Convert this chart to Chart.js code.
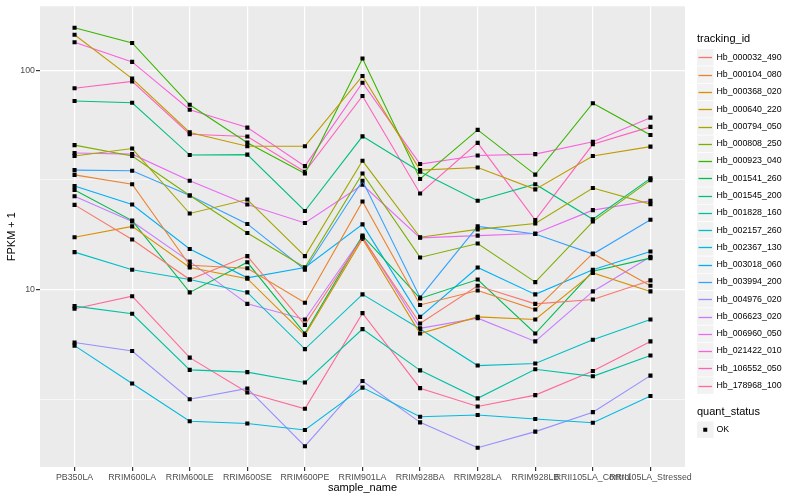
<!DOCTYPE html>
<html>
<head>
<meta charset="utf-8">
<style>
  html, body { margin: 0; padding: 0; background: #fff; }
</style>
</head>
<body>
<canvas id="myChart" width="800" height="500"></canvas>

<script src="https://cdn.jsdelivr.net/npm/chart.js"></script>

<script>
  // sample names along x
  let samples = ['PB350LA', 'RRIM600LA', 'RRIM600LE', 'RRIM600SE', 'RRIM600PE', 'RRIM901LA',
    'RRIM928BA', 'RRIM928LA', 'RRIM928LB', 'RRII105LA_Control', 'RRII105LA_Stressed'];

  let trackingIds = ['Hb_000032_490', 'Hb_000104_080', 'Hb_000368_020', 'Hb_000640_220',
    'Hb_000794_050', 'Hb_000808_250', 'Hb_000923_040', 'Hb_001541_260', 'Hb_001545_200',
    'Hb_001828_160', 'Hb_002157_260', 'Hb_002367_130', 'Hb_003018_060', 'Hb_003994_200',
    'Hb_004976_020', 'Hb_006623_020', 'Hb_006960_050', 'Hb_021422_010', 'Hb_106552_050',
    'Hb_178968_100'];

  // FPKM + 1
  let hb_000032_490 = [24.3, 16.9, 11.1, 14.2, 6.9, 17.2, 7.0, 10.4, 8.6, 9.0, 11.0];
  let hb_000104_080 = [33.3, 30.2, 12.9, 12.5, 8.7, 25.2, 8.5, 9.9, 8.1, 14.6, 10.4];
  let hb_000368_020 = [17.3, 19.4, 12.6, 11.2, 6.2, 17.0, 6.3, 7.5, 7.3, 11.9, 9.8];
  let hb_000640_220 = [145, 91.5, 52, 45, 45, 94, 35, 36, 28.6, 40.6, 44.8];
  let hb_000794_050 = [40.6, 43.9, 22.2, 25.7, 14.2, 38.6, 17.3, 18.8, 20.0, 29.0, 24.5];
  let hb_000808_250 = [45.5, 40.6, 26.8, 18.1, 12.6, 33.8, 14.0, 16.2, 10.8, 20.4, 31.5];
  let hb_000923_040 = [156, 133, 69.5, 46.7, 33.8, 113, 31.9, 53.4, 33.4, 70.6, 50.6];
  let hb_001541_260 = [28.4, 20.6, 9.7, 13.3, 6.3, 17.6, 9.1, 11.1, 6.3, 12.1, 13.9];
  let hb_001545_200 = [72.3, 71.0, 41.0, 41.2, 22.8, 49.9, 34.4, 25.4, 30.2, 20.9, 32.1];
  let hb_001828_160 = [8.4, 7.75, 4.3, 4.2, 3.77, 6.6, 4.28, 3.19, 4.33, 4.02, 5.0];
  let hb_002157_260 = [14.8, 12.3, 11.1, 9.7, 5.35, 9.5, 6.6, 4.5, 4.6, 5.9, 7.3];
  let hb_002367_130 = [5.55, 3.73, 2.51, 2.45, 2.29, 3.57, 2.63, 2.68, 2.57, 2.47, 3.27];
  let hb_003018_060 = [29.6, 24.4, 15.3, 11.3, 12.6, 19.8, 7.5, 12.6, 9.5, 12.3, 14.9];
  let hb_003994_200 = [35.0, 34.8, 26.8, 19.9, 12.3, 31.3, 9.2, 19.4, 17.9, 14.5, 20.8];
  let hb_004976_020 = [5.73, 5.24, 3.16, 3.54, 1.93, 3.83, 2.48, 1.90, 2.25, 2.76, 4.05];
  let hb_006623_020 = [26.6, 20.4, 13.4, 8.6, 7.3, 17.4, 6.65, 7.4, 5.8, 9.8, 14.1];
  let hb_006960_050 = [41.9, 41.4, 31.3, 24.4, 20.1, 30.0, 17.2, 17.6, 18.0, 23.0, 25.4];
  let hb_021422_010 = [134, 109, 66, 54.7, 36.5, 87.6, 37.3, 40.8, 41.4, 47.1, 60.7];
  let hb_106552_050 = [82.6, 88.8, 51.0, 49.8, 34.4, 76.2, 27.4, 46.6, 20.7, 45.9, 55.1];
  let hb_178968_100 = [8.17, 9.32, 4.89, 3.39, 2.86, 7.80, 3.55, 2.93, 3.30, 4.25, 5.80];

  let seriesValues = [hb_000032_490, hb_000104_080, hb_000368_020, hb_000640_220, hb_000794_050,
    hb_000808_250, hb_000923_040, hb_001541_260, hb_001545_200, hb_001828_160, hb_002157_260,
    hb_002367_130, hb_003018_060, hb_003994_200, hb_004976_020, hb_006623_020, hb_006960_050,
    hb_021422_010, hb_106552_050, hb_178968_100];

  let yMajorTicks = [10, 100];
  let yMinorTicks = [3.162, 31.62];
  let quantStatus = ['OK'];
</script>

<script>
  // ggplot-like hue palette (polar Luv)
  function hcl(h, c, l) {
    const hr = h * Math.PI / 180;
    const U = c * Math.cos(hr), V = c * Math.sin(hr);
    const Xn = 95.047, Yn = 100, Zn = 108.883;
    const un = 4 * Xn / (Xn + 15 * Yn + 3 * Zn), vn = 9 * Yn / (Xn + 15 * Yn + 3 * Zn);
    const Y = Yn * (l > 8 ? Math.pow((l + 16) / 116, 3) : l / 903.3);
    const u = U / (13 * l) + un, v = V / (13 * l) + vn;
    const X = 9 * Y * u / (4 * v);
    const Z = -X / 3 - 5 * Y + 3 * Y / v;
    const gam = t => t > 0.0031308 ? 1.055 * Math.pow(t, 1 / 2.4) - 0.055 : 12.92 * t;
    const rgb = [
      3.240479 * X - 1.537150 * Y - 0.498535 * Z,
      -0.969256 * X + 1.875992 * Y + 0.041556 * Z,
      0.055648 * X - 0.204043 * Y + 1.057311 * Z
    ].map(t => Math.round(255 * Math.min(1, Math.max(0, gam(t / 100)))));
    return '#' + rgb.map(x => x.toString(16).padStart(2, '0')).join('');
  }

  let datasets = [];
  for (let i = 0; i < trackingIds.length; i++) {
    let dataset = {};
    dataset.label = trackingIds[i];
    dataset.borderColor = hcl(15 + i * 360 / trackingIds.length, 100, 65);
    dataset.borderWidth = 1.1;
    dataset.pointStyle = 'rect';
    dataset.pointRadius = 2.9;
    dataset.pointBorderWidth = 0;
    dataset.pointBackgroundColor = '#000';
    dataset.fill = false;
    dataset.tension = 0;
    dataset.data = seriesValues[i].map((v, j) => ({ x: j, y: v }));
    datasets.push(dataset);
  }

  const panelBg = {
    id: 'panelBg',
    beforeDraw(chart) {
      const a = chart.chartArea, ctx = chart.ctx;
      ctx.save();
      ctx.fillStyle = '#EBEBEB';
      ctx.fillRect(a.left, a.top, a.right - a.left, a.bottom - a.top);
      ctx.restore();
    }
  };

  const ggLegend = {
    id: 'ggLegend',
    afterDraw(chart) {
      const ctx = chart.ctx;
      const x0 = 697, step = 17.27, key = 16.5;
      ctx.save();
      ctx.textBaseline = 'middle';
      ctx.textAlign = 'left';
      ctx.fillStyle = '#000';
      ctx.font = '11px "Liberation Sans", Arial, sans-serif';
      ctx.fillText('tracking_id', x0, 39);
      chart.data.datasets.forEach((ds, i) => {
        const top = 49.2 + i * step;
        const mid = Math.round(top + key / 2) + 0.5;
        ctx.fillStyle = '#F2F2F2';
        ctx.fillRect(x0, top, key, key);
        ctx.strokeStyle = ds.borderColor;
        ctx.lineWidth = 1.3;
        ctx.beginPath();
        ctx.moveTo(x0 + 1.5, mid);
        ctx.lineTo(x0 + key - 1.5, mid);
        ctx.stroke();
        ctx.fillStyle = '#000';
        ctx.font = '8.8px "Liberation Sans", Arial, sans-serif';
        ctx.fillText(ds.label, x0 + 19.5, top + key / 2);
      });
      ctx.font = '11px "Liberation Sans", Arial, sans-serif';
      ctx.fillText('quant_status', x0, 412);
      const top = 421.5;
      ctx.fillStyle = '#F2F2F2';
      ctx.fillRect(x0, top, key, key);
      ctx.fillStyle = '#000';
      ctx.fillRect(x0 + key / 2 - 2, top + key / 2 - 2, 4, 4);
      ctx.font = '8.8px "Liberation Sans", Arial, sans-serif';
      ctx.fillText(quantStatus[0], x0 + 19.5, top + key / 2);
      ctx.restore();
    }
  };

  const isMinor = v => yMinorTicks.some(m => Math.abs(m - v) < 1e-6);

  const ctx = document.getElementById('myChart');

  new Chart(ctx, {
    type: 'line',
    data: { datasets: datasets },
    plugins: [panelBg, ggLegend],
    options: {
      responsive: false,
      animation: false,
      events: [],
      layout: { padding: { left: 0, right: 115, top: 5, bottom: 0 } },
      plugins: { legend: { display: false }, tooltip: { enabled: false } },
      scales: {
        x: {
          type: 'linear',
          min: -0.6,
          max: samples.length - 0.4,
          afterBuildTicks: s => { s.ticks = samples.map((_, i) => ({ value: i })); },
          afterFit: s => { s.height = 33; },
          border: { display: false },
          grid: { color: '#FFFFFF', lineWidth: 1.2, tickLength: 4, tickColor: '#333333', drawOnChartArea: true },
          ticks: {
            autoSkip: false, maxRotation: 0, minRotation: 0, padding: 1,
            color: '#4D4D4D',
            font: { family: '"Liberation Sans", Arial, sans-serif', size: 8.8 },
            callback: v => samples[v]
          },
          title: {
            display: true, text: 'sample_name', color: '#000',
            font: { family: '"Liberation Sans", Arial, sans-serif', size: 11 },
            padding: { top: 0, bottom: 5.4 }
          }
        },
        y: {
          type: 'logarithmic',
          min: 1.552,
          max: 195.4,
          afterBuildTicks: s => {
            s.ticks = yMinorTicks.concat(yMajorTicks).sort((a, b) => a - b).map(v => ({ value: v }));
          },
          afterFit: s => { s.width = 40; },
          border: { display: false },
          grid: {
            color: '#FFFFFF',
            lineWidth: c => isMinor(c.tick.value) ? 0.6 : 1.2,
            tickLength: 4,
            tickColor: c => isMinor(c.tick.value) ? 'rgba(0,0,0,0)' : '#333333'
          },
          ticks: {
            padding: 1,
            color: '#4D4D4D',
            font: { family: '"Liberation Sans", Arial, sans-serif', size: 8.8 },
            callback: v => yMajorTicks.includes(v) ? String(v) : ''
          },
          title: {
            display: true, text: 'FPKM + 1', color: '#000',
            font: { family: '"Liberation Sans", Arial, sans-serif', size: 11 },
            padding: { top: 5.4, bottom: 0 }
          }
        }
      }
    }
  });
</script>
</body>
</html>
